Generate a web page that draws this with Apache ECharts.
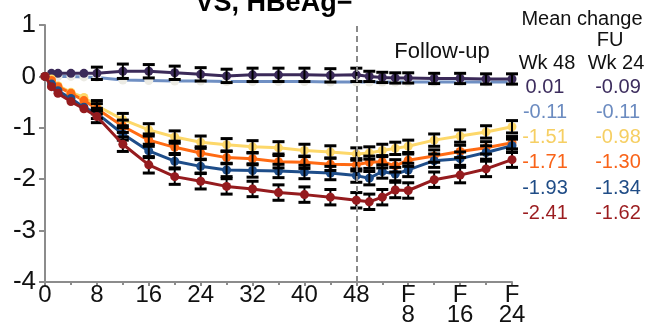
<!DOCTYPE html>
<html>
<head>
<meta charset="utf-8">
<script src="https://cdn.jsdelivr.net/npm/echarts@6/dist/echarts.min.js"></script>
<style>
html,body{margin:0;padding:0;background:#fff;}
#chart{width:650px;height:327px;}
</style>
</head>
<body>
<div id="chart"></div>
<script>
// ---- data ----
var weeks = [0,1,2,4,6,8,12,16,20,24,28,32,36,40,44,48,50,52,54,56,60,64,68,72];
var xTicks = ['0','8','16','24','32','40','48','F\n8','F\n16','F\n24'];
var yTicks = ['-4','-3','-2','-1','0','1'];

var purple    = [0,0.06,0.06,0.06,0.06,0.06,0.10,0.10,0.07,0.04,0.01,0.03,0.03,0.03,0.02,0.03,0.00,-0.02,-0.03,-0.03,-0.04,-0.04,-0.05,-0.05];
var lightBlue = [0,0,0,0,-0.01,-0.02,-0.07,-0.08,-0.09,-0.09,-0.10,-0.10,-0.10,-0.10,-0.11,-0.11,-0.11,-0.11,-0.11,-0.11,-0.11,-0.11,-0.11,-0.11];
var yellow    = [0,-0.05,-0.18,-0.31,-0.41,-0.57,-0.84,-1.04,-1.18,-1.28,-1.33,-1.37,-1.39,-1.44,-1.47,-1.51,-1.49,-1.44,-1.40,-1.36,-1.24,-1.16,-1.08,-0.98];
var orange    = [0,-0.08,-0.20,-0.33,-0.47,-0.63,-0.97,-1.24,-1.38,-1.49,-1.58,-1.60,-1.66,-1.67,-1.71,-1.72,-1.67,-1.66,-1.74,-1.63,-1.55,-1.46,-1.39,-1.29];
var blue      = [0,-0.15,-0.28,-0.43,-0.60,-0.72,-1.12,-1.45,-1.65,-1.75,-1.82,-1.83,-1.84,-1.86,-1.88,-1.93,-1.98,-1.85,-1.90,-1.82,-1.64,-1.60,-1.48,-1.35];
var darkRed   = [0,-0.20,-0.33,-0.49,-0.63,-0.78,-1.32,-1.72,-1.95,-2.04,-2.14,-2.19,-2.26,-2.30,-2.35,-2.41,-2.44,-2.35,-2.21,-2.22,-2.01,-1.92,-1.80,-1.62];

// half-width of error bars (null = none drawn)
var errPurple = [null,null,null,null,null,0.12,0.14,0.13,0.13,0.13,0.13,0.13,0.13,0.13,0.13,0.13,0.10,0.10,0.10,0.10,0.10,0.10,0.10,0.10];
var errYellow = [null,null,null,null,null,0.10,0.12,0.12,0.12,0.12,0.12,0.12,0.12,0.12,0.12,0.12,0.12,0.12,0.12,0.12,0.12,0.12,0.12,0.12];
var errOrange = [null,null,null,null,null,0.10,0.12,0.12,0.12,0.12,0.12,0.12,0.12,0.12,0.12,0.12,0.12,0.12,0.12,0.12,0.12,0.12,0.12,0.12];
var errBlue   = [null,null,null,null,null,0.10,0.12,0.13,0.13,0.13,0.13,0.13,0.13,0.13,0.13,0.13,0.13,0.13,0.13,0.13,0.13,0.13,0.13,0.13];
var errRed    = [null,null,null,null,null,0.12,0.14,0.16,0.15,0.15,0.15,0.15,0.15,0.15,0.15,0.15,0.15,0.15,0.15,0.15,0.15,0.15,0.15,0.15];

var headWk48 = 'Wk 48', headFU = 'FU', headWk24 = 'Wk 24';
var wk48Vals = ['0.01','-0.11','-1.51','-1.71','-1.93','-2.41'];
var fu24Vals = ['-0.09','-0.11','-0.98','-1.30','-1.34','-1.62'];

// ---- styling ----
var lineColors = ['#3b2a59','#6f8fc3','#fdd86a','#ff6a13','#1e4d89','#951b1e'];
var textColors = ['#3d2d5e','#6b8bc0','#f6cf63','#f96318','#1f4c86','#9b1c1f'];
var FONT = '"Liberation Sans", Arial, sans-serif';

function pairs(vals){ return weeks.map(function(w,i){ return [w, vals[i]]; }); }
function errData(vals, errs){
  var out = [];
  weeks.forEach(function(w,i){ if(errs[i]!=null) out.push([w, vals[i]-errs[i], vals[i]+errs[i]]); });
  return out;
}
function errSeries(vals, errs){
  return {
    type:'custom', z:4, silent:true,
    data: errData(vals, errs),
    encode:{x:0, y:[1,2]},
    renderItem: function(params, api){
      var x = api.value(0);
      var top = api.coord([x, api.value(2)]);
      var bot = api.coord([x, api.value(1)]);
      var hw = 6;
      var st = {stroke:'#000', lineWidth:2};
      var cs = {stroke:'#000', lineWidth:3};
      return {type:'group', children:[
        {type:'line', shape:{x1:top[0],y1:top[1],x2:bot[0],y2:bot[1]}, style:st},
        {type:'line', shape:{x1:top[0]-hw,y1:top[1],x2:top[0]+hw,y2:top[1]}, style:cs},
        {type:'line', shape:{x1:bot[0]-hw,y1:bot[1],x2:bot[0]+hw,y2:bot[1]}, style:cs}
      ]};
    }
  };
}
function lineSeries(vals, color, sym, z){
  return {
    type:'line', data:pairs(vals), z:z,
    symbol:'circle', symbolSize:9, showSymbol:true,
    itemStyle:{color: sym || color},
    lineStyle:{color:color, width:3},
    emphasis:{disabled:true}
  };
}

var series = [
  lineSeries(lightBlue, lineColors[1], '#ecebe4', 2),
  lineSeries(purple, lineColors[0], null, 3),
  errSeries(purple, errPurple),
  lineSeries(yellow, lineColors[2], null, 3),
  errSeries(yellow, errYellow),
  lineSeries(orange, lineColors[3], null, 3),
  errSeries(orange, errOrange),
  lineSeries(blue, lineColors[4], null, 3),
  errSeries(blue, errBlue),
  lineSeries(darkRed, lineColors[5], null, 5),
  errSeries(darkRed, errRed)
];
series[0].markLine = {
  symbol:'none', silent:true, label:{show:false},
  lineStyle:{type:[6,4], color:'#8a8a8a', width:2},
  data:[{xAxis:48}]
};

var graphics = [
  {type:'text', x:274, y:4, z:10, style:{text:'VS, HBeAg\u2212', fontSize:27, fontWeight:'bold', fontFamily:FONT, fill:'#000', align:'center', verticalAlign:'middle'}},
  {type:'text', x:442, y:52, style:{text:'Follow-up', fontSize:22, fontFamily:FONT, fill:'#111', align:'center', verticalAlign:'middle'}},
  {type:'text', x:582, y:19, style:{text:'Mean change', fontSize:20, fontFamily:FONT, fill:'#111', align:'center', verticalAlign:'middle'}},
  {type:'text', x:610, y:40, style:{text:headFU, fontSize:20, fontFamily:FONT, fill:'#111', align:'center', verticalAlign:'middle'}},
  {type:'text', x:547, y:63, style:{text:headWk48, fontSize:20, fontFamily:FONT, fill:'#111', align:'center', verticalAlign:'middle'}},
  {type:'text', x:616, y:63, style:{text:headWk24, fontSize:20, fontFamily:FONT, fill:'#111', align:'center', verticalAlign:'middle'}}
];
var rowY = [87,112,137,162,188,213];
wk48Vals.forEach(function(t,i){
  graphics.push({type:'text', x:545, y:rowY[i], style:{text:t, fontSize:20, fontFamily:FONT, fill:textColors[i], align:'center', verticalAlign:'middle'}});
  graphics.push({type:'text', x:618, y:rowY[i], style:{text:fu24Vals[i], fontSize:20, fontFamily:FONT, fill:textColors[i], align:'center', verticalAlign:'middle'}});
});

var chart = echarts.init(document.getElementById('chart'), null, {renderer:'canvas'});
chart.setOption({
  animation:false,
  backgroundColor:'#fff',
  grid:{left:45, top:25, width:467, height:260, containLabel:false},
  xAxis:{
    type:'value', min:0, max:72, interval:8,
    axisLine:{onZero:false, lineStyle:{color:'#8c8c8c', width:2}},
    axisTick:{show:true, length:4, lineStyle:{color:'#8c8c8c', width:2}},
    minorTick:{show:true, splitNumber:2, length:3, lineStyle:{color:'#8c8c8c', width:2}},
    splitLine:{show:false},
    axisLabel:{
      color:'#111', fontSize:24, fontFamily:FONT, margin:3, lineHeight:20,
      formatter:function(v){ return xTicks[Math.round(v/8)]; }
    }
  },
  yAxis:{
    type:'value', min:-4, max:1, interval:1,
    axisLine:{show:true, onZero:false, lineStyle:{color:'#8c8c8c', width:2}},
    axisTick:{show:true, length:6, lineStyle:{color:'#8c8c8c', width:2}},
    splitLine:{show:false},
    axisLabel:{
      color:'#111', fontSize:26, fontFamily:FONT, margin:9,
      formatter:function(v){ return yTicks[Math.round(v+4)]; }
    }
  },
  series:series,
  graphic:graphics
});
</script>
</body>
</html>
